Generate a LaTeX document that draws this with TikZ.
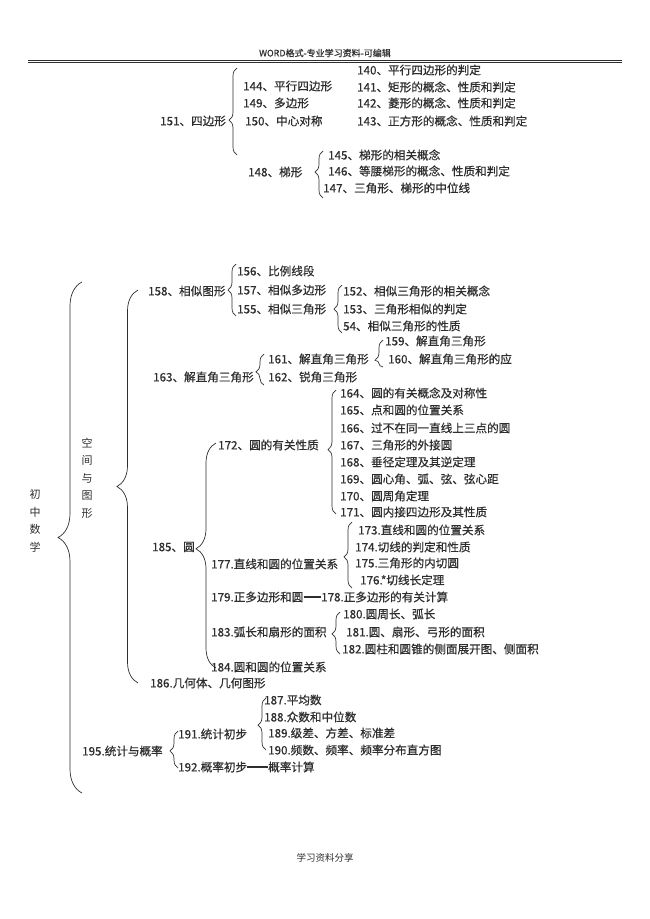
\documentclass[tikz,border=0pt]{standalone}
\usepackage{fontspec}
\setmainfont{Noto Sans CJK SC}
\newfontfamily\inkfont{Noto Sans CJK SC}[FakeBold=0.6]
\usetikzlibrary{decorations.pathreplacing}
\definecolor{ink}{HTML}{2E2E2E}

\begin{document}
\begin{tikzpicture}[x=1pt,y=-1pt,
  item/.style={anchor=west,inner sep=0pt,text=ink,font=\fontsize{11.6}{13}\selectfont\inkfont},
  vtext/.style={inner sep=0pt,text=ink,align=center,font=\fontsize{11}{17.5}\selectfont},
  brc/.style={decorate,draw=ink,line width=0.7pt,decoration={brace,amplitude=8pt,aspect=#1}},
  bigbrc/.style={brc=#1,decoration={amplitude=21pt}},
  link/.style={draw=ink,line width=1.4pt}]
\useasboundingbox (0,0) rectangle (650,919);
% page header and footer
\node[inner sep=0pt,text=ink,font=\fontsize{9}{10}\selectfont\inkfont] (hdr) at (325,53) {WORD格式-专业学习资料-可编辑};
\draw[ink,line width=1pt] (28,60) -- (622,60);
\draw[ink,line width=0.4pt] (28,62.5) -- (622,62.5);
\node[inner sep=0pt,text=ink,font=\fontsize{9.5}{10}\selectfont] (ftr) at (325,858) {学习资料分享};

% quadrilaterals
\node[item] (n151) at (160,121) {151、四边形};
\node[item] (n144) at (243,86) {144、平行四边形};
\node[item] (n149) at (243,103) {149、多边形};
\node[item] (n150) at (245,121) {150、中心对称};
\node[item] (n140) at (357,70) {140、平行四边形的判定};
\node[item] (n141) at (357,87) {141、矩形的概念、性质和判定};
\node[item] (n142) at (357,103) {142、菱形的概念、性质和判定};
\node[item] (n143) at (357,121) {143、正方形的概念、性质和判定};
\node[item] (n148) at (248,172) {148、梯形};
\node[item] (n145) at (328,155) {145、梯形的相关概念};
\node[item] (n146) at (328,171) {146、等腰梯形的概念、性质和判定};
\node[item] (n147) at (323,188) {147、三角形、梯形的中位线};
\draw[brc=0.40] (237,155) -- (237,68);
\draw[brc=0.55] (323,198) -- (323,151);

% spine
\node[vtext] (root) at (35,521) {初\\中\\数\\学};
\node[vtext] (space) at (87,478) {空\\间\\与\\图\\形};
\draw[bigbrc=0.50,decoration={amplitude=24pt}] (82,793) -- (82,282);
\draw[bigbrc=0.50] (138,683) -- (138,290);

% similar figures
\node[item] (n158) at (148,291) {158、相似图形};
\node[item] (n156) at (237,271) {156、比例线段};
\node[item] (n157) at (237,290) {157、相似多边形};
\node[item] (n155) at (237,309) {155、相似三角形};
\node[item] (n152) at (343,291) {152、相似三角形的相关概念};
\node[item] (n153) at (343,309) {153、三角形相似的判定};
\node[item] (n154) at (343,326) {54、相似三角形的性质};
\draw[brc=0.5] (236,316) -- (236,264);
\draw[brc=0.5] (342,333) -- (342,285);

% right triangles
\node[item] (n163) at (153,377) {163、解直角三角形};
\node[item] (n161) at (268,359) {161、解直角三角形};
\node[item] (n162) at (268,377) {162、锐角三角形};
\node[item] (n159) at (385,341) {159、解直角三角形};
\node[item] (n160) at (388,359) {160、解直角三角形的应};
\draw[brc=0.42] (264,385) -- (264,354);
\draw[brc=0.25] (383,367) -- (383,340);

% circles
\node[item] (n185) at (152,547) {185、圆};
\draw[bigbrc=0.53,decoration={amplitude=20pt}] (216,668) -- (216,443);
\node[item] (n172) at (218,445) {172、圆的有关性质};
\node[item] (n164) at (340,393) {164、圆的有关概念及对称性};
\node[item] (n165) at (340,410) {165、点和圆的位置关系};
\node[item] (n166) at (340,428) {166、过不在同一直线上三点的圆};
\node[item] (n167) at (340,445) {167、三角形的外接圆};
\node[item] (n168) at (340,462) {168、垂径定理及其逆定理};
\node[item] (n169) at (340,479) {169、圆心角、弧、弦、弦心距};
\node[item] (n170) at (340,496) {170、圆周角定理};
\node[item] (n171) at (340,512) {171、圆内接四边形及其性质};
\draw[brc=0.52] (336,514) -- (336,390);
\node[item] (n177) at (211,564) {177.直线和圆的位置关系};
\node[item] (n173) at (358,530) {173.直线和圆的位置关系};
\node[item] (n174) at (355,547) {174.切线的判定和性质};
\node[item] (n175) at (355,563) {175.三角形的内切圆};
\node[item] (n176) at (360,580) {176.*切线长定理};
\draw[brc=0.47] (352,588) -- (352,522);
\node[item] (n179) at (211,597) {179.正多边形和圆};
\node[item] (n178) at (321,597) {178.正多边形的有关计算};
\draw[link] (n179) -- (n178);
\node[item] (n183) at (211,632) {183.弧长和扇形的面积};
\node[item] (n180) at (343,614) {180.圆周长、弧长};
\node[item] (n181) at (346,632) {181.圆、扇形、弓形的面积};
\node[item] (n182) at (342,649) {182.圆柱和圆锥的侧面展开图、侧面积};
\draw[brc=0.48] (340,654) -- (340,612);
\node[item] (n184) at (211,667) {184.圆和圆的位置关系};
\node[item] (n186) at (150,683) {186.几何体、几何图形};

% statistics and probability
\node[item] (n195) at (82,751) {195.统计与概率};
\node[item] (n191) at (178,734) {191.统计初步};
\node[item] (n192) at (178,767) {192.概率初步};
\node[item] (calc) at (268,767) {概率计算};
\draw[link] (n192) -- (calc);
\draw[brc=0.46] (178,768) -- (178,731);
\node[item] (n187) at (264,700) {187.平均数};
\node[item] (n188) at (264,717) {188.众数和中位数};
\node[item] (n189) at (268,733) {189.级差、方差、标准差};
\node[item] (n190) at (268,750) {190.频数、频率、频率分布直方图};
\draw[brc=0.48] (266,750) -- (266,698);
\end{tikzpicture}
\end{document}
